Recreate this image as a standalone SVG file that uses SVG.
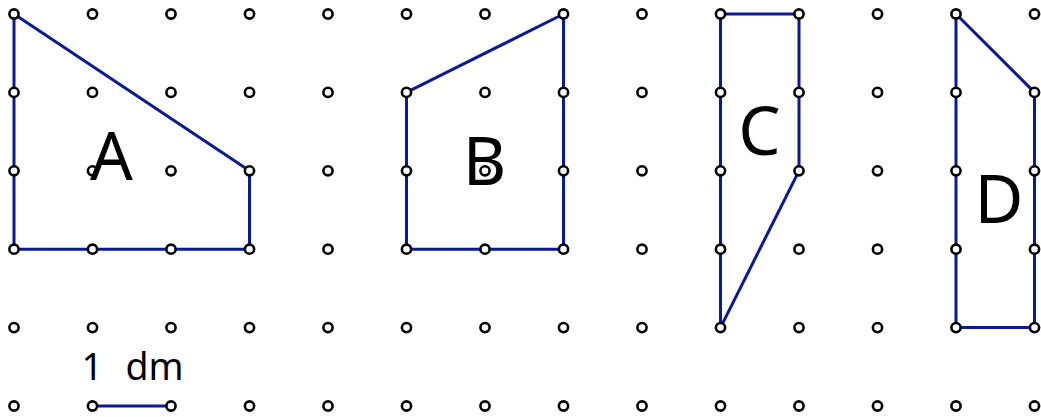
<svg xmlns="http://www.w3.org/2000/svg" xmlns:xlink="http://www.w3.org/1999/xlink" width="1041" height="417" viewBox="0 0 1041 417">
<style>
.edge{fill:none;stroke:#0a1a96;stroke-width:3;stroke-linejoin:round}
.dot{fill:#fff;stroke:#000;stroke-width:2.6}
.lbl{font-family:"Noto Sans","Open Sans",sans-serif;font-size:67px;fill:#000;text-anchor:middle}
.scale{font-family:"Noto Sans","Open Sans",sans-serif;font-size:37.5px;fill:#000}
</style>
<defs>
<circle id="d" r="4.6" class="dot"/>
</defs>
<rect width="1041" height="417" fill="#fff"/>
<g id="connectors">
<polygon id="shapeA" class="edge" points="14,14 249.5,170.8 249.5,249.2 14,249.2"/>
<polygon id="shapeB" class="edge" points="406.5,92.4 563.5,14 563.5,249.2 406.5,249.2"/>
<polygon id="shapeC" class="edge" points="720.5,14 799,14 799,170.8 720.5,327.6"/>
<polygon id="shapeD" class="edge" points="956,14 1034.5,92.4 1034.5,327.6 956,327.6"/>
<line id="scaleBar" class="edge" x1="92.5" y1="406" x2="171" y2="406"/>
</g>
<g id="grid">
<g id="row0" transform="translate(0,14)">
<use xlink:href="#d" x="14"/><use xlink:href="#d" x="92.5"/><use xlink:href="#d" x="171"/><use xlink:href="#d" x="249.5"/><use xlink:href="#d" x="328"/><use xlink:href="#d" x="406.5"/><use xlink:href="#d" x="485"/><use xlink:href="#d" x="563.5"/><use xlink:href="#d" x="642"/><use xlink:href="#d" x="720.5"/><use xlink:href="#d" x="799"/><use xlink:href="#d" x="877.5"/><use xlink:href="#d" x="956"/><use xlink:href="#d" x="1034.5"/>
</g>
<g id="row1" transform="translate(0,92.4)">
<use xlink:href="#d" x="14"/><use xlink:href="#d" x="92.5"/><use xlink:href="#d" x="171"/><use xlink:href="#d" x="249.5"/><use xlink:href="#d" x="328"/><use xlink:href="#d" x="406.5"/><use xlink:href="#d" x="485"/><use xlink:href="#d" x="563.5"/><use xlink:href="#d" x="642"/><use xlink:href="#d" x="720.5"/><use xlink:href="#d" x="799"/><use xlink:href="#d" x="877.5"/><use xlink:href="#d" x="956"/><use xlink:href="#d" x="1034.5"/>
</g>
<g id="row2" transform="translate(0,170.8)">
<use xlink:href="#d" x="14"/><use xlink:href="#d" x="92.5"/><use xlink:href="#d" x="171"/><use xlink:href="#d" x="249.5"/><use xlink:href="#d" x="328"/><use xlink:href="#d" x="406.5"/><use xlink:href="#d" x="485"/><use xlink:href="#d" x="563.5"/><use xlink:href="#d" x="642"/><use xlink:href="#d" x="720.5"/><use xlink:href="#d" x="799"/><use xlink:href="#d" x="877.5"/><use xlink:href="#d" x="956"/><use xlink:href="#d" x="1034.5"/>
</g>
<g id="row3" transform="translate(0,249.2)">
<use xlink:href="#d" x="14"/><use xlink:href="#d" x="92.5"/><use xlink:href="#d" x="171"/><use xlink:href="#d" x="249.5"/><use xlink:href="#d" x="328"/><use xlink:href="#d" x="406.5"/><use xlink:href="#d" x="485"/><use xlink:href="#d" x="563.5"/><use xlink:href="#d" x="642"/><use xlink:href="#d" x="720.5"/><use xlink:href="#d" x="799"/><use xlink:href="#d" x="877.5"/><use xlink:href="#d" x="956"/><use xlink:href="#d" x="1034.5"/>
</g>
<g id="row4" transform="translate(0,327.6)">
<use xlink:href="#d" x="14"/><use xlink:href="#d" x="92.5"/><use xlink:href="#d" x="171"/><use xlink:href="#d" x="249.5"/><use xlink:href="#d" x="328"/><use xlink:href="#d" x="406.5"/><use xlink:href="#d" x="485"/><use xlink:href="#d" x="563.5"/><use xlink:href="#d" x="642"/><use xlink:href="#d" x="720.5"/><use xlink:href="#d" x="799"/><use xlink:href="#d" x="877.5"/><use xlink:href="#d" x="956"/><use xlink:href="#d" x="1034.5"/>
</g>
<g id="row5" transform="translate(0,406)">
<use xlink:href="#d" x="14"/><use xlink:href="#d" x="92.5"/><use xlink:href="#d" x="171"/><use xlink:href="#d" x="249.5"/><use xlink:href="#d" x="328"/><use xlink:href="#d" x="406.5"/><use xlink:href="#d" x="485"/><use xlink:href="#d" x="563.5"/><use xlink:href="#d" x="642"/><use xlink:href="#d" x="720.5"/><use xlink:href="#d" x="799"/><use xlink:href="#d" x="877.5"/><use xlink:href="#d" x="956"/><use xlink:href="#d" x="1034.5"/>
</g>
</g>
<g id="labelA"><text class="lbl" x="111.5" y="180">A</text></g>
<g id="labelB"><text class="lbl" x="484.5" y="185">B</text></g>
<g id="labelC"><text class="lbl" x="759.5" y="155">C</text></g>
<g id="labelD"><text class="lbl" x="999" y="223">D</text></g>
<g id="scaleLabel"><text class="scale" y="380"><tspan x="81.5">1</tspan><tspan x="125.5">dm</tspan></text></g>
</svg>
